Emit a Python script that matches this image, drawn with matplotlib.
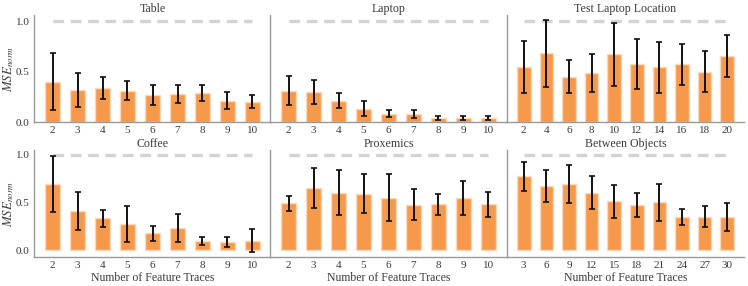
import matplotlib
matplotlib.use("Agg")
import matplotlib.pyplot as plt
import numpy as np

plt.rcParams['font.family'] = ['Liberation Serif', 'DejaVu Serif']
plt.rcParams['mathtext.fontset'] = 'stix'

titles = ["Table", "Laptop", "Test Laptop Location", "Coffee", "Proxemics", "Between Objects"]

labels_table = ["2", "3", "4", "5", "6", "7", "8", "9", "10"]
mean_table = [0.40, 0.32, 0.335, 0.31, 0.27, 0.28, 0.29, 0.21, 0.20]
err_table = [0.28, 0.17, 0.11, 0.095, 0.10, 0.09, 0.08, 0.085, 0.065]

labels_laptop = ["2", "3", "4", "5", "6", "7", "8", "9", "10"]
mean_laptop = [0.31, 0.30, 0.21, 0.13, 0.08, 0.08, 0.04, 0.043, 0.04]
err_laptop = [0.145, 0.12, 0.075, 0.075, 0.035, 0.043, 0.023, 0.02, 0.016]

labels_testloc = ["2", "4", "6", "8", "10", "12", "14", "16", "18", "20"]
mean_testloc = [0.546, 0.68, 0.45, 0.487, 0.67, 0.576, 0.54, 0.57, 0.50, 0.655]
err_testloc = [0.255, 0.33, 0.16, 0.19, 0.315, 0.25, 0.257, 0.20, 0.207, 0.207]

labels_coffee = ["2", "3", "4", "5", "6", "7", "8", "9", "10"]
mean_coffee = [0.697, 0.41, 0.334, 0.275, 0.178, 0.233, 0.094, 0.087, 0.098]
err_coffee = [0.295, 0.20, 0.09, 0.186, 0.078, 0.146, 0.044, 0.05, 0.12]

labels_prox = ["2", "3", "4", "5", "6", "7", "8", "9", "10"]
mean_prox = [0.49, 0.65, 0.60, 0.59, 0.55, 0.477, 0.48, 0.547, 0.48]
err_prox = [0.08, 0.21, 0.235, 0.205, 0.25, 0.16, 0.113, 0.176, 0.133]

labels_between = ["3", "6", "9", "12", "15", "18", "21", "24", "27", "30"]
mean_between = [0.773, 0.669, 0.693, 0.603, 0.512, 0.47, 0.50, 0.348, 0.352, 0.348]
err_between = [0.152, 0.166, 0.197, 0.174, 0.172, 0.124, 0.195, 0.08, 0.115, 0.15]

panels = [
    (labels_table, mean_table, err_table),
    (labels_laptop, mean_laptop, err_laptop),
    (labels_testloc, mean_testloc, err_testloc),
    (labels_coffee, mean_coffee, err_coffee),
    (labels_prox, mean_prox, err_prox),
    (labels_between, mean_between, err_between),
]

bar_color = '#F7994A'
edge_color = '#FCD9BC'
spine_color = '#999999'
text_color = '#3a3a3a'

fig = plt.figure(figsize=(7.48, 2.86), dpi=100)
W, H = 748, 286
lefts = [34, 270, 507]
width_px = 237
rows = [(15, 122), (150, 257)]
ylims = [(0.0, 1.06), (-0.073, 1.05)]

for i, (labs, m, e) in enumerate(panels):
    r, c = divmod(i, 3)
    top, bot = rows[r]
    ax = fig.add_axes([lefts[c] / W, 1 - bot / H, width_px / W, (bot - top) / H])
    n = len(labs)
    x = np.arange(n)
    ax.bar(x, m, width=0.6, color=bar_color, edgecolor=edge_color, linewidth=1.0, zorder=2)
    ax.errorbar(x, m, yerr=e, fmt='none', ecolor='#111111', elinewidth=1.4, capsize=2.2, capthick=1.2, zorder=3)
    ax.hlines(1.0, 0, n - 1, colors='#D3D3D3', linestyles=(0, (3.2, 2.0)), linewidth=2.4, zorder=1)
    ax.set_xlim(-0.74, n - 0.26)
    ax.set_ylim(*ylims[r])
    ax.set_xticks(x)
    ax.set_xticklabels(labs)
    ax.set_yticks([0.0, 0.5, 1.0])
    if c == 0:
        ax.set_yticklabels(["0.0", "0.5", "1.0"])
        ax.set_ylabel(r'$MSE_{norm}$', color=text_color, fontsize=9.3)
        ax.yaxis.set_label_coords(-0.078, 0.5)
    else:
        ax.set_yticklabels([])
    ax.tick_params(length=0, labelsize=8, colors=text_color, pad=3)
    for s in ['top', 'right']:
        ax.spines[s].set_visible(False)
    for s in ['left', 'bottom']:
        ax.spines[s].set_color(spine_color)
        ax.spines[s].set_linewidth(1.0)
    ax.set_title(titles[i], fontsize=8.6, color=text_color, pad=1.5)
    if r == 1:
        ax.set_xlabel('Number of Feature Traces', fontsize=8.5, color=text_color, labelpad=1)
    ax.set_facecolor('white')

fig.savefig('out.png', dpi=100)
